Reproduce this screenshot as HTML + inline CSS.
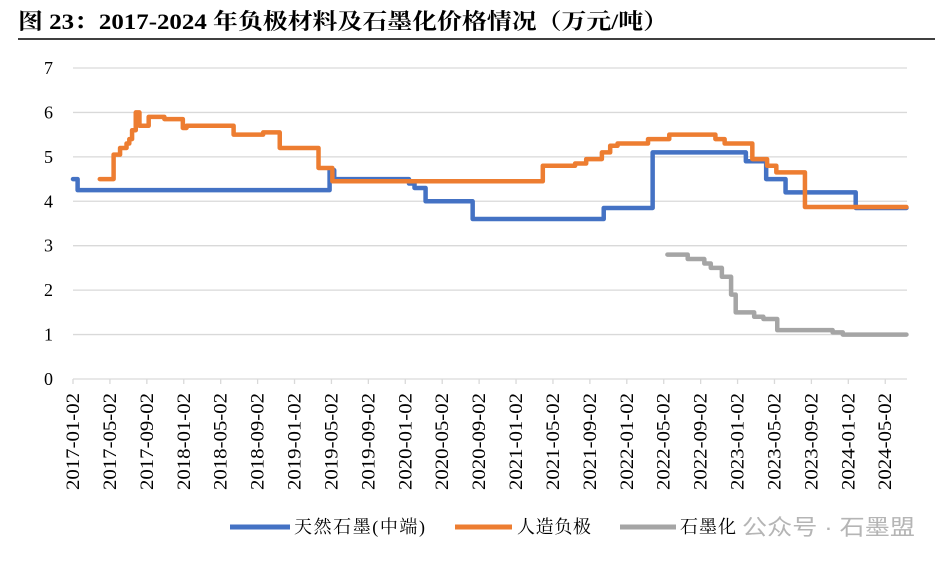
<!DOCTYPE html>
<html><head><meta charset="utf-8">
<style>
body{margin:0;background:#fff;}
svg{display:block;font-family:"Liberation Serif","Noto Serif CJK SC",serif;}
</style></head>
<body>
<svg id="chart" width="948" height="562" viewBox="0 0 948 562" xmlns="http://www.w3.org/2000/svg">
<text x="18" y="29" font-size="22" font-weight="bold" fill="#000" textLength="650" lengthAdjust="spacingAndGlyphs">图 23：2017-2024 年负极材料及石墨化价格情况（万元/吨）</text>
<line x1="18" y1="39" x2="935" y2="39" stroke="#000" stroke-width="1.5"/>
<g id="grid"></g><g id="axes"></g><g id="series"></g>
<g>
<line x1="230" y1="527" x2="290" y2="527" stroke="#4472C4" stroke-width="5"/>
<text x="294" y="533" font-size="18" textLength="131" lengthAdjust="spacing">天然石墨(中端)</text>
<line x1="455" y1="527" x2="512" y2="527" stroke="#ED7D31" stroke-width="5"/>
<text x="517" y="533" font-size="18" textLength="74" lengthAdjust="spacing">人造负极</text>
<line x1="620" y1="527" x2="676" y2="527" stroke="#A5A5A5" stroke-width="5"/>
<text x="680" y="533" font-size="18" textLength="56" lengthAdjust="spacing">石墨化</text>
</g>
<text x="742" y="535" font-size="22" fill="#b5b5b5" textLength="173" lengthAdjust="spacingAndGlyphs" font-family="Liberation Sans,Noto Sans CJK SC,sans-serif">公众号 · 石墨盟</text>
</svg>
<script>
// months since 2017-01-02
const xTickLabels=["2017-01-02","2017-05-02","2017-09-02","2018-01-02","2018-05-02","2018-09-02","2019-01-02","2019-05-02","2019-09-02","2020-01-02","2020-05-02","2020-09-02","2021-01-02","2021-05-02","2021-09-02","2022-01-02","2022-05-02","2022-09-02","2023-01-02","2023-05-02","2023-09-02","2024-01-02","2024-05-02"];
const yTicks=[0,1,2,3,4,5,6,7];
const naturalMonths=[0,0.5,27.8,28.3,36.4,37,38.2,43.3,57.5,62.8,72.9,75.1,77.2,84.8,90.3];
const naturalValues=[4.5,4.25,4.7,4.5,4.4,4.3,4.0,3.6,3.85,5.1,4.9,4.5,4.2,3.85,3.85];
const artMonths=[2.9,4.4,5.1,5.8,6.1,6.4,6.8,7.2,8.2,9.9,11.9,12.3,17.4,20.6,22.4,26.6,28.1,50.9,54.4,55.6,57.3,58.2,59.0,62.3,64.6,69.6,70.6,73.6,75.2,76.2,79.3,90.3];
const artValues=[4.5,5.05,5.2,5.3,5.4,5.6,6.0,5.7,5.9,5.85,5.65,5.7,5.5,5.55,5.2,4.75,4.45,4.8,4.85,4.95,5.1,5.25,5.3,5.4,5.5,5.4,5.3,4.95,4.8,4.65,3.87,3.87];
const grMonths=[64.4,66.6,68.4,69.1,70.3,71.3,71.8,72.6,73.8,74.8,76.3,78.2,82.3,83.4,90.3];
const grValues=[2.8,2.7,2.6,2.5,2.3,1.9,1.5,1.5,1.4,1.35,1.1,1.1,1.05,1.0,1.0];

const NS="http://www.w3.org/2000/svg";
const X0=73,X1=907,Y0=379,PXM=9.23,PXV=44.43;
const xs=m=>X0+m*PXM, ys=v=>Y0-v*PXV;
function mk(t,a,p){const e=document.createElementNS(NS,t);for(const k in a)e.setAttribute(k,a[k]);p.appendChild(e);return e;}
const grid=document.getElementById('grid'),axes=document.getElementById('axes'),series=document.getElementById('series');
yTicks.forEach(v=>{
 if(v>0){const g=mk('line',{x1:X0,x2:X1,y1:ys(v),y2:ys(v),stroke:'#d9d9d9','stroke-width':1.3},grid);
 
 }
 const t=mk('text',{x:53,y:ys(v)+6,'font-size':18,'text-anchor':'end'},axes);t.textContent=v;
 
 
});
const ax=mk('line',{x1:X0,x2:X1,y1:Y0,y2:Y0,stroke:'#d9d9d9','stroke-width':1.3},axes);


xTickLabels.forEach((s,i)=>{
 const x=xs(i*4);
 const tk=mk('line',{x1:x,x2:x,y1:Y0,y2:Y0+5,stroke:'#d9d9d9','stroke-width':1.3},axes);
 
 
 const t=mk('text',{x:0,y:0,'font-size':19,'text-anchor':'end',textLength:97,lengthAdjust:'spacingAndGlyphs',transform:`translate(${x+6},393) rotate(-90)`},axes);
 t.textContent=s;
 
 
});
function stepLine(ms,vs,color,name){
 let d='';
 for(let i=0;i<ms.length;i++){
  const x=xs(ms[i]),y=ys(vs[i]);
  if(i===0)d+=`M${x},${y}`;else d+=`H${x}V${y}`;
 }
 const p=mk('path',{d,fill:'none',stroke:color,'stroke-width':4.5,'stroke-linejoin':'round','stroke-linecap':'round'},series);
 
 
}
stepLine(naturalMonths,naturalValues,'#4472C4','series-natural-graphite');
stepLine(artMonths,artValues,'#ED7D31','series-artificial-anode');
stepLine(grMonths,grValues,'#A5A5A5','series-graphitization');
</script>
</body></html>
